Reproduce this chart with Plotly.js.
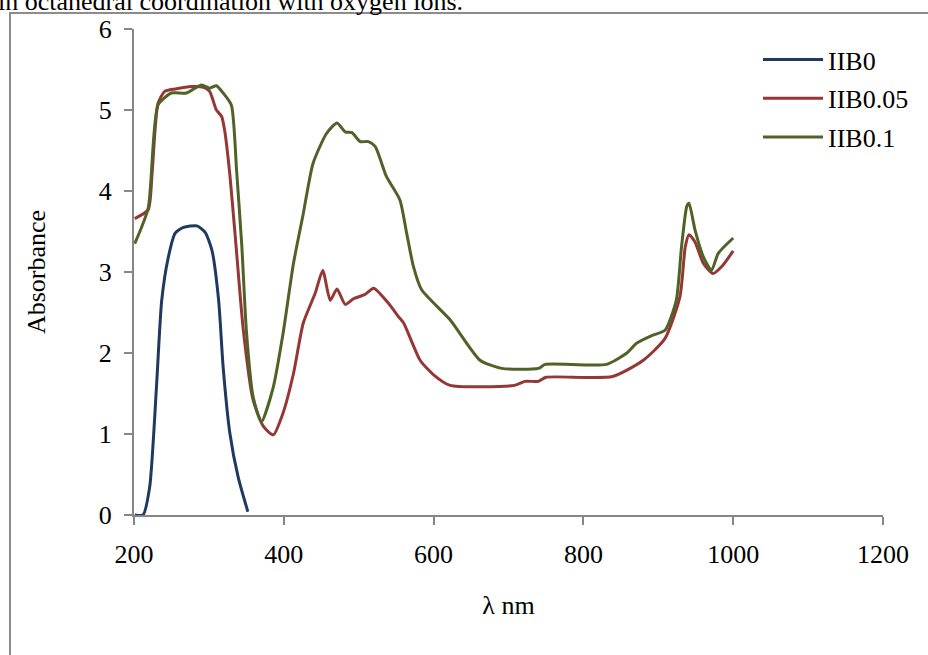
<!DOCTYPE html>
<html>
<head>
<meta charset="utf-8">
<script src="https://cdn.plot.ly/plotly-3.0.1.min.js"></script>
<style>html,body{margin:0;padding:0;background:#fff;}#chart{width:928px;height:655px;}</style>
</head>
<body>
<div id="chart"></div>
<script>
// Data
const seriesNames = ["IIB0", "IIB0.05", "IIB0.1"];

const iib0_x = [201, 212, 221, 230, 237, 246, 255, 266, 284, 295, 304, 313, 319, 328, 339, 352];
const iib0_y = [0, 0, 0.35, 1.58, 2.65, 3.19, 3.48, 3.55, 3.57, 3.49, 3.27, 2.65, 1.83, 1.01, 0.47, 0.04];

const iib005_x = [201, 219, 224, 232, 241, 255, 277, 293, 301, 310, 317, 321, 328, 336, 346, 359, 373, 386, 399, 413, 426, 442, 452, 462, 471, 482, 493, 508, 520, 540, 553, 560, 582, 600, 622, 708, 722, 740, 750, 839, 880, 909, 929, 936, 941, 949, 960, 973, 985, 1000];
const iib005_y = [3.66, 3.77, 4.2, 5.08, 5.23, 5.26, 5.29, 5.28, 5.23, 5.0, 4.92, 4.75, 4.2, 3.35, 2.28, 1.42, 1.09, 0.99, 1.26, 1.75, 2.37, 2.74, 3.02, 2.65, 2.79, 2.60, 2.67, 2.72, 2.80, 2.61, 2.45, 2.37, 1.91, 1.73, 1.60, 1.60, 1.65, 1.65, 1.70, 1.71, 1.91, 2.18, 2.70, 3.31, 3.46, 3.37, 3.11, 2.98, 3.07, 3.26];

const iib01_x = [201, 219, 232, 250, 270, 290, 301, 310, 319, 330, 337, 344, 350, 359, 370, 386, 399, 413, 426, 439, 457, 471, 482, 491, 502, 513, 522, 537, 555, 564, 573, 584, 622, 662, 691, 740, 749, 831, 858, 871, 893, 909, 924, 931, 938, 941, 949, 960, 971, 980, 1000];
const iib01_y = [3.35, 3.79, 5.06, 5.21, 5.21, 5.31, 5.27, 5.30, 5.21, 5.06, 4.25, 3.31, 2.28, 1.46, 1.15, 1.58, 2.24, 3.11, 3.72, 4.34, 4.71, 4.84, 4.73, 4.72, 4.61, 4.61, 4.55, 4.18, 3.89, 3.48, 3.07, 2.78, 2.41, 1.91, 1.81, 1.81, 1.86, 1.86, 2.0, 2.12, 2.22, 2.28, 2.65, 3.31, 3.81, 3.85, 3.52, 3.19, 3.02, 3.23, 3.42];

const xTicks = [200, 400, 600, 800, 1000, 1200];
const yTicks = [0, 1, 2, 3, 4, 5, 6];

const colors = ["#1F3A60", "#953735", "#4F6228"];
const FONT = "Liberation Serif, Times New Roman, serif";

const xs = [iib0_x, iib005_x, iib01_x];
const ys = [iib0_y, iib005_y, iib01_y];

const traces = seriesNames.map((n, i) => ({
  x: xs[i], y: ys[i], name: n, type: "scatter", mode: "lines",
  legendgroup: "g" + i,
  line: {color: colors[i], width: 3, shape: "spline", smoothing: 0.6},
  hoverinfo: "x+y+name"
}));

const L = 134, R = 883, T = 29, B = 515;
const W = 928, H = 655;
const pw = R - L, ph = B - T;
const px = v => (v - L) / pw;
const py = v => (B - v) / ph;

const layout = {
  width: W, height: H,
  margin: {l: L, r: W - R, t: T, b: H - B, pad: 0},
  paper_bgcolor: "#ffffff", plot_bgcolor: "#ffffff",
  font: {family: FONT, size: 26, color: "#000"},
  showlegend: true,
  legend: {x: px(758), y: py(36), xanchor: "left", yanchor: "top", itemwidth: 60,
           bgcolor: "rgba(0,0,0,0)", font: {family: FONT, size: 26}, tracegroupgap: 2},
  xaxis: {range: [200, 1200], tickvals: xTicks, ticktext: xTicks.map(String),
          showline: true, linecolor: "#868686", linewidth: 2,
          ticks: "outside", ticklen: 8, tickwidth: 2, tickcolor: "#868686",
          showgrid: false, zeroline: false, ticklabelstandoff: 7,
          title: {text: "λ nm", font: {family: FONT, size: 26}, standoff: 28}},
  yaxis: {range: [0, 6], tickvals: yTicks, ticktext: yTicks.map(String),
          showline: true, linecolor: "#868686", linewidth: 2,
          ticks: "outside", ticklen: 8, tickwidth: 2, tickcolor: "#868686",
          showgrid: false, zeroline: false, ticklabelstandoff: 7,
          title: {text: "Absorbance", font: {family: FONT, size: 26}, standoff: 46}},
  shapes: [{type: "rect", xref: "paper", yref: "paper",
            x0: px(10), x1: px(940), y0: py(670), y1: py(13),
            line: {color: "#8c8c8c", width: 2}, fillcolor: "rgba(0,0,0,0)", layer: "below"}],
  annotations: [{text: "in octahedral coordination with oxygen ions.", xref: "paper", yref: "paper",
                 x: px(-4), y: py(18), xanchor: "left", yanchor: "bottom", showarrow: false,
                 font: {family: FONT, size: 26, color: "#000"}}]
};

Plotly.newPlot("chart", traces, layout, {displayModeBar: false, staticPlot: true});
</script>
</body>
</html>
